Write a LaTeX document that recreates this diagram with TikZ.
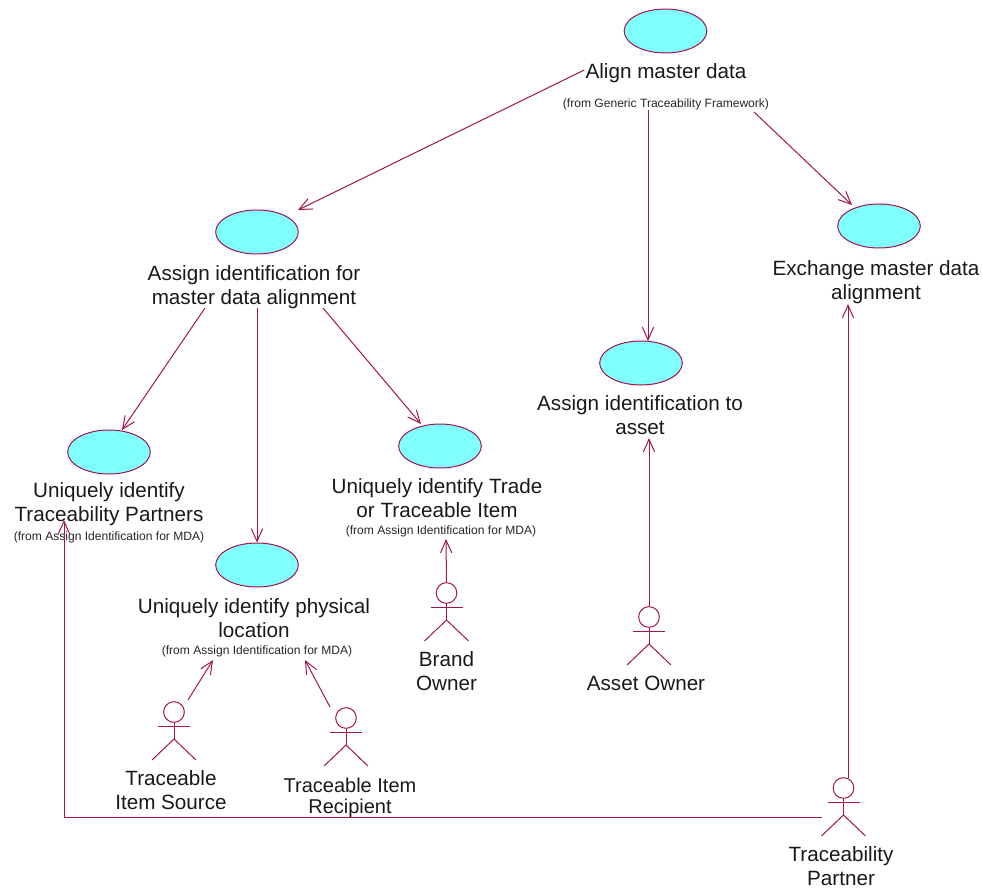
\documentclass[tikz,border=0pt]{standalone}
\usepackage{fontspec}
\setmainfont{Liberation Sans}
\usetikzlibrary{shapes.geometric,arrows.meta,calc}
\definecolor{umlline}{HTML}{A3134F}
\definecolor{umlfill}{HTML}{80FFFF}
\tikzset{
  usecase/.style={ellipse,draw=umlline,fill=umlfill,line width=0.75pt,inner sep=0pt,minimum width=62pt,minimum height=33pt},
  biglabel/.style={inner sep=0pt,align=center,font=\fontsize{15.5}{18}\selectfont,text=black!90},
  smalllabel/.style={inner sep=0pt,align=center,font=\fontsize{9.05}{10}\selectfont,text=black!85},
  link/.style={draw=umlline,line width=0.75pt,-{Straight Barb[length=9.5pt,width=8.5pt,line width=0.75pt]}},
  wire/.style={draw=umlline,line width=0.75pt},
  actor/.pic={
    \node[circle,draw=umlline,line width=0.75pt,inner sep=0pt,minimum size=15.5pt] (-head) at (0,0) {};
    \draw[wire] (-head.south) -- (0,27);
    \draw[wire] (-16,14) -- (16,14);
    \draw[wire] (-22,48) -- (0,27) -- (22,48);
  }
}
\begin{document}
\begin{tikzpicture}[x=0.75pt,y=-0.75pt]
\useasboundingbox (0,0) rectangle (983,888);
% use cases
\node[usecase] (align) at (665.5,31) {};
\node[usecase] (assign) at (257,232) {};
\node[usecase] (exchange) at (879,226) {};
\node[usecase] (asset) at (641,363) {};
\node[usecase] (partners) at (109,452) {};
\node[usecase] (trade) at (440,446) {};
\node[usecase] (physical) at (257,565) {};
% labels
\node[biglabel] (alignL) at (666,73) {Align master data};
\node[smalllabel] (alignS) at (666,104) {(from Generic Traceability Framework)};
\node[biglabel] (assignL) at (254,287) {Assign identification for\\master data alignment};
\node[biglabel] (exchangeL) at (876,282) {Exchange master data\\alignment};
\node[biglabel] (assetL) at (640,415) {Assign identification to\\asset};
\node[biglabel] (partnersL) at (109,504) {Uniquely identify\\Traceability Partners};
\node[smalllabel] (partnersS) at (109,537) {(from Assign Identification for MDA)};
\node[biglabel] (tradeL) at (437,498) {Uniquely identify Trade\\or Traceable Item};
\node[smalllabel] (tradeS) at (441,531) {(from Assign Identification for MDA)};
\node[biglabel] (physicalL) at (254,618) {Uniquely identify physical\\location};
\node[smalllabel] (physicalS) at (257,651) {(from Assign Identification for MDA)};
% actors
\pic (source) at (174,712) {actor};
\pic (recipient) at (346,718) {actor};
\pic (brand) at (446.5,593) {actor};
\pic (owner) at (649,617) {actor};
\pic (partner) at (843.5,788) {actor};
\node[biglabel] (sourceL) at (171,790) {Traceable\\Item Source};
\node[biglabel,font=\fontsize{15}{16}\selectfont] (recipientL) at (350,798) {Traceable Item\\Recipient};
\node[biglabel] (brandL) at (446.5,671) {Brand\\Owner};
\node[biglabel] (ownerL) at (646,683) {Asset Owner};
\node[biglabel] (partnerL) at (841,866) {Traceability\\Partner};
% connectors
\coordinate (partnerHip) at (822,817);
\coordinate (partnerCorner) at (64,817);
\coordinate (partnerEnd) at (64,520);
\path[link] ([shift={(-1,-3)}]alignL.west) -- ([shift={(41,-22)}]assign.center);
\path[link] ([shift={(-18,6)}]alignS.center) -- ([shift={(7,-22)}]asset.center);
\path[link] ([shift={(88,8)}]alignS.center) -- ([shift={(-27,-21)}]exchange.center);
\path[link] ([shift={(-49,21)}]assignL.center) -- ([shift={(13,-22)}]partners.center);
\path[link] ([shift={(3,21)}]assignL.center) -- (physical.north);
\path[link] ([shift={(69,21)}]assignL.center) -- ([shift={(-19,-22)}]trade.center);
\path[link] (brand-head.north) -- ([shift={(5,8)}]tradeS.center);
\path[link] (owner-head.north) -- ([shift={(9,23)}]assetL.center);
\path[link] ([shift={(4.5,-10)}]partner-head.center) -- ([shift={(-28,22)}]exchangeL.center);
\path[link] ([shift={(14,-12)}]source-head.center) -- ([shift={(-44,9)}]physicalS.center);
\path[link] ([shift={(-16,-11)}]recipient-head.center) -- ([shift={(48,9)}]physicalS.center);
\path[link] (partnerHip) -- (partnerCorner) -- (partnerEnd);
\end{tikzpicture}
\end{document}
